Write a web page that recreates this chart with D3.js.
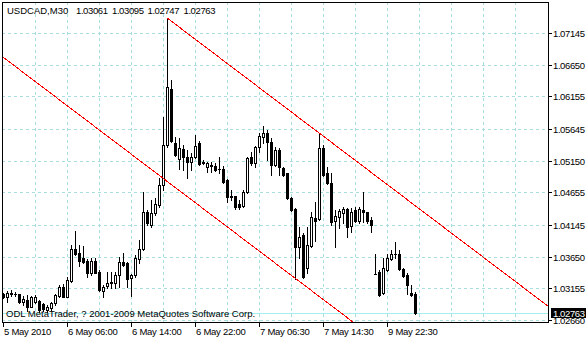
<!DOCTYPE html>
<html>
<head>
<meta charset="utf-8">
<script src="https://cdn.jsdelivr.net/npm/d3@7"></script>
<style>
body { margin: 0; background: #fff; }
svg { display: block; font-family: "Liberation Sans", Arial, sans-serif; font-size: 9.5px; }
</style>
</head>
<body>
<svg id="chart" width="586" height="340"></svg>
<script>

var symbol = "USDCAD,M30";
var copyright = "ODL MetaTrader, ? 2001-2009 MetaQuotes Software Corp.";

// M30 bars, oldest first
var open = [1.03066, 1.03015, 1.03074, 1.03071, 1.03062, 1.02946, 1.02973, 1.02868, 1.02941, 1.02957,
	1.02905, 1.02816, 1.02843, 1.02921, 1.03035, 1.03180, 1.03024, 1.03274, 1.03765, 1.03702,
	1.03624, 1.03582, 1.03399, 1.03582, 1.03415, 1.03118, 1.03191, 1.03243, 1.03243, 1.03363,
	1.03571, 1.03546, 1.03312, 1.03363, 1.03609, 1.03765, 1.04343, 1.04145, 1.04337, 1.04457,
	1.04770, 1.05395, 1.06265, 1.05431, 1.05171, 1.05327, 1.05213, 1.05134, 1.05213, 1.05426,
	1.05118, 1.05056, 1.05090, 1.05067, 1.05015, 1.05015, 1.04848, 1.04598, 1.04598, 1.04468,
	1.04441, 1.04665, 1.05213, 1.05109, 1.05358, 1.05524, 1.05587, 1.05446, 1.05082, 1.05317,
	1.05031, 1.04953, 1.04562, 1.04390, 1.03805, 1.03988, 1.03468, 1.03817, 1.04249, 1.04234,
	1.05343, 1.04962, 1.04806, 1.04212, 1.04274, 1.04337, 1.04395, 1.04129, 1.04379, 1.04212,
	1.04379, 1.04343, 1.04223, 1.03374, 1.03415, 1.03077, 1.03441, 1.03609, 1.03691, 1.03691,
	1.03452, 1.03363, 1.03087, 1.03061];

var high = [1.03082, 1.03113, 1.03129, 1.03098, 1.03066, 1.03035, 1.03051, 1.03035, 1.03043, 1.02973,
	1.02926, 1.02894, 1.02946, 1.03066, 1.03207, 1.03218, 1.03337, 1.03832, 1.04056, 1.03832,
	1.03817, 1.03613, 1.03629, 1.03629, 1.03441, 1.03207, 1.03415, 1.03410, 1.03415, 1.03649,
	1.03702, 1.03566, 1.03379, 1.03676, 1.03910, 1.04665, 1.04379, 1.04535, 1.04562, 1.04874,
	1.05837, 1.07375, 1.06411, 1.05524, 1.05500, 1.05395, 1.05317, 1.05265, 1.05551, 1.05457,
	1.05160, 1.05134, 1.05134, 1.05118, 1.05202, 1.05067, 1.04859, 1.04692, 1.04598, 1.04535,
	1.04692, 1.05213, 1.05290, 1.05379, 1.05578, 1.05692, 1.05629, 1.05500, 1.05368, 1.05348,
	1.05056, 1.04953, 1.04582, 1.04405, 1.04118, 1.04020, 1.04118, 1.04352, 1.04509, 1.05567,
	1.05395, 1.05051, 1.04953, 1.04379, 1.04390, 1.04431, 1.04410, 1.04405, 1.04431, 1.04431,
	1.04665, 1.04352, 1.04274, 1.03691, 1.03441, 1.03624, 1.03691, 1.03754, 1.03884, 1.03754,
	1.03468, 1.03390, 1.03207, 1.03095];

var low = [1.02996, 1.02946, 1.03035, 1.03035, 1.02930, 1.02894, 1.02805, 1.02863, 1.02926, 1.02790,
	1.02805, 1.02790, 1.02816, 1.02894, 1.03024, 1.03020, 1.03015, 1.03258, 1.03676, 1.03504,
	1.03551, 1.03332, 1.03363, 1.03387, 1.03118, 1.03015, 1.03160, 1.03160, 1.03155, 1.03180,
	1.03504, 1.03180, 1.03035, 1.03337, 1.03546, 1.03754, 1.04145, 1.04119, 1.04301, 1.04431,
	1.04692, 1.05368, 1.05446, 1.05223, 1.05015, 1.05004, 1.04874, 1.05004, 1.05187, 1.05082,
	1.05098, 1.04978, 1.04978, 1.04993, 1.04953, 1.04806, 1.04509, 1.04535, 1.04390, 1.04390,
	1.04431, 1.04650, 1.05082, 1.05056, 1.05290, 1.05431, 1.05160, 1.04926, 1.05067, 1.04926,
	1.04910, 1.04546, 1.04363, 1.03296, 1.03624, 1.03312, 1.03390, 1.03801, 1.03899, 1.04223,
	1.04910, 1.04785, 1.04145, 1.03796, 1.04093, 1.04171, 1.03962, 1.04040, 1.04196, 1.04171,
	1.04196, 1.04171, 1.04040, 1.03374, 1.03035, 1.03066, 1.03431, 1.03598, 1.03624, 1.03441,
	1.03337, 1.03066, 1.03035, 1.02747];

var close = [1.03012, 1.03077, 1.03082, 1.03066, 1.02946, 1.02988, 1.02868, 1.03024, 1.03027, 1.02816,
	1.02827, 1.02868, 1.02921, 1.03051, 1.03180, 1.03024, 1.03285, 1.03765, 1.03687, 1.03587,
	1.03571, 1.03399, 1.03582, 1.03399, 1.03129, 1.03180, 1.03234, 1.03249, 1.03363, 1.03571,
	1.03520, 1.03296, 1.03363, 1.03624, 1.03765, 1.04352, 1.04171, 1.04327, 1.04473, 1.04770,
	1.05395, 1.06296, 1.05462, 1.05238, 1.05343, 1.05202, 1.05134, 1.05213, 1.05379, 1.05093,
	1.05124, 1.05109, 1.05067, 1.05004, 1.05012, 1.04821, 1.04578, 1.04578, 1.04431, 1.04431,
	1.04665, 1.05187, 1.05109, 1.05368, 1.05535, 1.05578, 1.05446, 1.05082, 1.05317, 1.05051,
	1.04926, 1.04562, 1.04379, 1.03796, 1.03962, 1.03337, 1.03832, 1.04265, 1.04212, 1.05343,
	1.04926, 1.04806, 1.04196, 1.04285, 1.04363, 1.04395, 1.04118, 1.04343, 1.04212, 1.04395,
	1.04352, 1.04212, 1.04145, 1.03379, 1.03051, 1.03468, 1.03624, 1.03691, 1.03696, 1.03452,
	1.03348, 1.03207, 1.03051, 1.02763];

var priceTicks = [1.07145, 1.06650, 1.06155, 1.05645, 1.05150, 1.04655, 1.04145, 1.03650, 1.03155, 1.02660];

var timeLabels = ["5 May 2010", "6 May 06:00", "6 May 14:00", "6 May 22:00", "7 May 06:30", "7 May 14:30", "9 May 22:30"];
var timeLabelBars = [0, 16, 32, 48, 64, 80, 96];

// equidistant channel, two anchors each (bar index, price)
var channelUpper = [{bar: 41, price: 1.07375}, {bar: 136, price: 1.02882}];
var channelLower = [{bar: 0, price: 1.06762}, {bar: 87, price: 1.02646}];


var svg = d3.select("#chart");

var plot = {left: 2, right: 548, top: 2, bottom: 322};

var x = d3.scaleLinear().domain([0, 136]).range([3, 547]);
var y = d3.scaleLinear().domain([1.02660, 1.07145]).range([320, 33]);

var gridColor = "#aadede";

svg.append("defs").append("clipPath")
.attr("id", "plotClip")
.append("rect")
.attr("x", plot.left + 1)
.attr("y", plot.top + 1)
.attr("width", plot.right - plot.left - 1)
.attr("height", plot.bottom - plot.top - 1);

var area = svg.append("g").attr("clip-path", "url(#plotClip)");

// Grid

area.selectAll(".hgrid")
.data(priceTicks)
.enter().append("line")
.attr("class", "hgrid")
.attr("x1", plot.left)
.attr("x2", plot.right)
.attr("y1", function (d) { return Math.round(y(d)) + 0.5; })
.attr("y2", function (d) { return Math.round(y(d)) + 0.5; })
.style("stroke", gridColor)
.style("stroke-dasharray", "3,3")
.style("shape-rendering", "crispEdges");

area.selectAll(".vgrid")
.data(d3.range(8, 136, 8))
.enter().append("line")
.attr("class", "vgrid")
.attr("x1", function (d) { return x(d) + 0.5; })
.attr("x2", function (d) { return x(d) + 0.5; })
.attr("y1", plot.top)
.attr("y2", plot.bottom)
.style("stroke", gridColor)
.style("stroke-dasharray", "3,3")
.style("shape-rendering", "crispEdges");

// Bid line

var last = close.length - 1;

area.append("line")
.attr("x1", plot.left)
.attr("x2", plot.right)
.attr("y1", Math.round(y(close[last])) + 0.5)
.attr("y2", Math.round(y(close[last])) + 0.5)
.style("stroke", "#a4eeee")
.style("shape-rendering", "crispEdges");

// Candles

var bars = open.map(function (o, i) {
	return {i: i, o: o, h: high[i], l: low[i], c: close[i]};
});

var candles = area.selectAll(".candle")
.data(bars)
.enter().append("g")
.attr("class", "candle")
.style("shape-rendering", "crispEdges");

candles.append("line")
.attr("x1", function (d) { return x(d.i) + 0.5; })
.attr("x2", function (d) { return x(d.i) + 0.5; })
.attr("y1", function (d) { return Math.round(y(d.h)); })
.attr("y2", function (d) { return Math.round(y(d.l)) + 1; })
.style("stroke", "#000");

candles.each(function (d) {
	var g = d3.select(this);
	var top = Math.round(y(Math.max(d.o, d.c)));
	var bottom = Math.round(y(Math.min(d.o, d.c)));

	if (bottom - top < 1) {
		g.append("rect")
		.attr("x", x(d.i) - 1)
		.attr("y", top)
		.attr("width", 3)
		.attr("height", 1)
		.style("fill", "#000");
	} else if (d.c > d.o) {
		g.append("rect")
		.attr("x", x(d.i) - 0.5)
		.attr("y", top + 0.5)
		.attr("width", 2)
		.attr("height", bottom - top)
		.style("fill", "#fff")
		.style("stroke", "#000");
	} else {
		g.append("rect")
		.attr("x", x(d.i) - 1)
		.attr("y", top)
		.attr("width", 3)
		.attr("height", bottom - top + 1)
		.style("fill", "#000");
	}
});

// Channel

function extend(anchors, from, to) {
	var a = anchors[0], b = anchors[1];
	var k = (b.price - a.price) / (b.bar - a.bar);
	return [{bar: from, price: a.price + k * (from - a.bar)}, {bar: to, price: a.price + k * (to - a.bar)}];
}

var channelLine = d3.line()
.x(function (d) { return x(d.bar) + 0.5; })
.y(function (d) { return y(d.price); });

area.selectAll(".channel")
.data([extend(channelUpper, 41, 140), extend(channelLower, -2, 95)])
.enter().append("path")
.attr("class", "channel")
.attr("d", channelLine)
.style("fill", "none")
.style("stroke", "#ff0000")
.style("shape-rendering", "crispEdges");

// Frame

svg.append("rect")
.attr("x", plot.left + 0.5)
.attr("y", plot.top + 0.5)
.attr("width", plot.right - plot.left)
.attr("height", plot.bottom - plot.top)
.style("fill", "none")
.style("stroke", "#000")
.style("shape-rendering", "crispEdges");

// Price axis

svg.selectAll(".ptick")
.data(priceTicks)
.enter().append("line")
.attr("class", "ptick")
.attr("x1", plot.right + 1)
.attr("x2", plot.right + 4)
.attr("y1", function (d) { return Math.round(y(d)) + 0.5; })
.attr("y2", function (d) { return Math.round(y(d)) + 0.5; })
.style("stroke", "#000")
.style("shape-rendering", "crispEdges");

svg.selectAll(".plabel")
.data(priceTicks)
.enter().append("text")
.attr("class", "plabel")
.attr("x", plot.right + 5)
.attr("y", function (d) { return Math.round(y(d)) + 4; })
.style("letter-spacing", "-0.4px")
.text(function (d) { return d.toFixed(5); });

svg.append("rect")
.attr("x", plot.right + 3)
.attr("y", Math.round(y(close[last])) - 5)
.attr("width", 36)
.attr("height", 10)
.style("fill", "#000");

svg.append("text")
.attr("x", plot.right + 5)
.attr("y", Math.round(y(close[last])) + 4)
.style("fill", "#fff")
.style("letter-spacing", "-0.4px")
.text(close[last].toFixed(5));

// Time axis

svg.selectAll(".ttick")
.data(timeLabelBars)
.enter().append("line")
.attr("class", "ttick")
.attr("x1", function (d) { return x(d) + 0.5; })
.attr("x2", function (d) { return x(d) + 0.5; })
.attr("y1", plot.bottom + 1)
.attr("y2", plot.bottom + 5)
.style("stroke", "#000")
.style("shape-rendering", "crispEdges");

svg.selectAll(".tlabel")
.data(timeLabels)
.enter().append("text")
.attr("class", "tlabel")
.attr("x", function (d, i) { return x(timeLabelBars[i]) + 1; })
.attr("y", 335)
.style("letter-spacing", "-0.25px")
.text(function (d) { return d; });

// Header & footer

var header = [symbol, open[last], high[last], low[last], close[last]];
var headerX = [7, 76, 112, 147.5, 183.5];

svg.selectAll(".header")
.data(header)
.enter().append("text")
.attr("class", "header")
.attr("x", function (d, i) { return headerX[i]; })
.attr("y", 14)
.style("letter-spacing", function (d, i) { return i == 0 ? "0px" : "-0.4px"; })
.text(function (d) { return typeof d == "number" ? d.toFixed(5) : d; });

svg.append("text")
.attr("x", 6)
.attr("y", 317)
.text(copyright);

</script>
</body>
</html>
